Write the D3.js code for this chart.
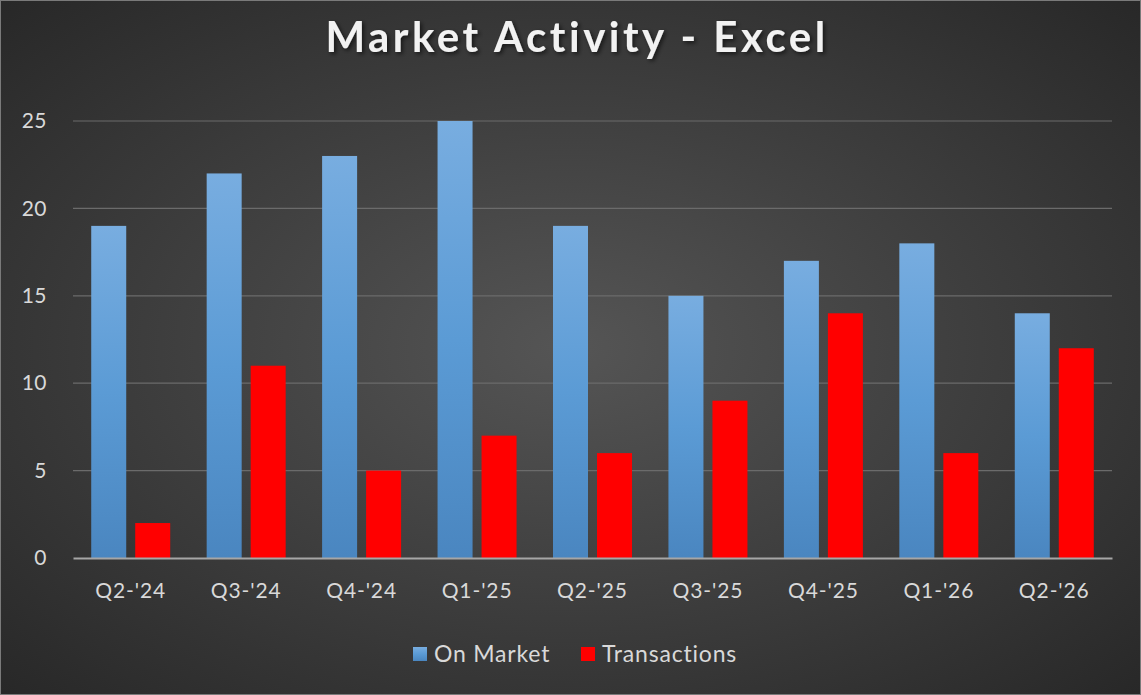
<!DOCTYPE html>
<html>
<head>
<meta charset="utf-8">
<script src="https://cdn.jsdelivr.net/npm/d3@7"></script>
<style>
  body { margin: 0; background: #2b2b2b; }
  text { font-family: Lato, "Open Sans", sans-serif; }
</style>
</head>
<body>
<div id="chart"></div>
<script>
// chart values
const quarters = ["Q2-'24", "Q3-'24", "Q4-'24", "Q1-'25", "Q2-'25", "Q3-'25", "Q4-'25", "Q1-'26", "Q2-'26"]
const onMarket = [19, 22, 23, 25, 19, 15, 17, 18, 14]
const transactions = [2, 11, 5, 7, 6, 9, 14, 6, 12]
const yTicks = [0, 5, 10, 15, 20, 25]
const seriesNames = ["On Market", "Transactions"]

const width = 1141
const height = 695
const margin = {top: 121, right: 29, bottom: 137, left: 73}
const innerWidth = width - margin.left - margin.right
const innerHeight = height - margin.top - margin.bottom

const svg = d3.select('#chart').append('svg')
  .attr('width', width)
  .attr('height', height)

// background with a soft radial light in the middle
const defs = svg.append('defs')
const bg = defs.append('radialGradient').attr('id', 'bg')
  .attr('cx', '50%').attr('cy', '50%').attr('r', '75%')
bg.append('stop').attr('offset', '0%').attr('stop-color', '#555555')
bg.append('stop').attr('offset', '100%').attr('stop-color', '#252525')

const blue = defs.append('linearGradient').attr('id', 'blueGrad')
  .attr('x1', 0).attr('y1', 0).attr('x2', 0).attr('y2', 1)
blue.append('stop').attr('offset', '0%').attr('stop-color', '#78ade0')
blue.append('stop').attr('offset', '50%').attr('stop-color', '#5b9bd5')
blue.append('stop').attr('offset', '100%').attr('stop-color', '#4a86c0')

const shadow = defs.append('filter').attr('id', 'shadow')
shadow.append('feDropShadow').attr('dx', 2).attr('dy', 2).attr('stdDeviation', 2)
  .attr('flood-color', '#000').attr('flood-opacity', 0.6)

svg.append('rect')
  .attr('width', width).attr('height', height)
  .attr('fill', 'url(#bg)')
svg.append('rect')
  .attr('x', 0.5).attr('y', 0.5)
  .attr('width', width - 1).attr('height', height - 1)
  .attr('fill', 'none').attr('stroke', '#7a7a7a')

// title
svg.append('text')
  .attr('x', 577).attr('y', 52)
  .attr('text-anchor', 'middle')
  .attr('fill', '#f2f2f2')
  .attr('font-weight', 'bold')
  .style('font-size', '42px')
  .style('letter-spacing', '3.5px')
  .attr('filter', 'url(#shadow)')
  .text('Market Activity - Excel')

const g = svg.append('g')
  .attr('transform', 'translate(' + margin.left + ',' + margin.top + ')')

const x0 = d3.scaleBand().domain(quarters).range([0, innerWidth])
const yScale = d3.scaleLinear().domain([0, 25]).range([innerHeight, 0])

// gridlines
g.append('g')
  .selectAll('line')
  .data(yTicks.slice(1))
  .join('line')
  .attr('x1', 0).attr('x2', innerWidth)
  .attr('y1', d => yScale(d)).attr('y2', d => yScale(d))
  .attr('stroke', '#6b6b6b').attr('stroke-width', 1.2)

// y axis labels
const yAxis = g.append('g')
  .call(d3.axisLeft(yScale).tickValues(yTicks).tickSize(0).tickPadding(26))
yAxis.select('.domain').remove()
yAxis.selectAll('text')
  .attr('fill', '#d9d9d9')
  .style('font-size', '21px')
  .style('letter-spacing', '0.5px')

// bars
const barW = 35
const gap = 9
const groups = g.selectAll('.quarter')
  .data(quarters)
  .join('g')
  .attr('class', 'quarter')
  .attr('transform', d => 'translate(' + (x0(d) + x0.bandwidth() / 2) + ',0)')

groups.append('rect')
  .attr('x', -barW - gap / 2)
  .attr('width', barW)
  .attr('y', (d, i) => yScale(onMarket[i]))
  .attr('height', (d, i) => innerHeight - yScale(onMarket[i]))
  .attr('fill', 'url(#blueGrad)')

groups.append('rect')
  .attr('x', gap / 2)
  .attr('width', barW)
  .attr('y', (d, i) => yScale(transactions[i]))
  .attr('height', (d, i) => innerHeight - yScale(transactions[i]))
  .attr('fill', '#ff0000')

// x axis
const xAxis = g.append('g')
  .attr('transform', 'translate(0,' + innerHeight + ')')
  .call(d3.axisBottom(x0).tickSize(0).tickPadding(25))
xAxis.select('.domain')
  .attr('stroke', '#a6a6a6').attr('stroke-width', 2)
xAxis.selectAll('text')
  .attr('fill', '#d9d9d9')
  .style('font-size', '21px')
  .style('letter-spacing', '0.9px')

// legend
const legendColors = ['url(#blueGrad)', '#ff0000']
const legendX = [413, 581]
const legend = svg.append('g')
  .selectAll('g')
  .data(seriesNames)
  .join('g')
  .attr('transform', (d, i) => 'translate(' + legendX[i] + ',654)')
legend.append('rect')
  .attr('x', 0).attr('y', -7)
  .attr('width', 14).attr('height', 14)
  .attr('fill', (d, i) => legendColors[i])
legend.append('text')
  .attr('x', 21).attr('y', 8)
  .attr('fill', '#d9d9d9')
  .style('font-size', '23px')
  .style('letter-spacing', '0.8px')
  .text(d => d)
</script>
</body>
</html>
